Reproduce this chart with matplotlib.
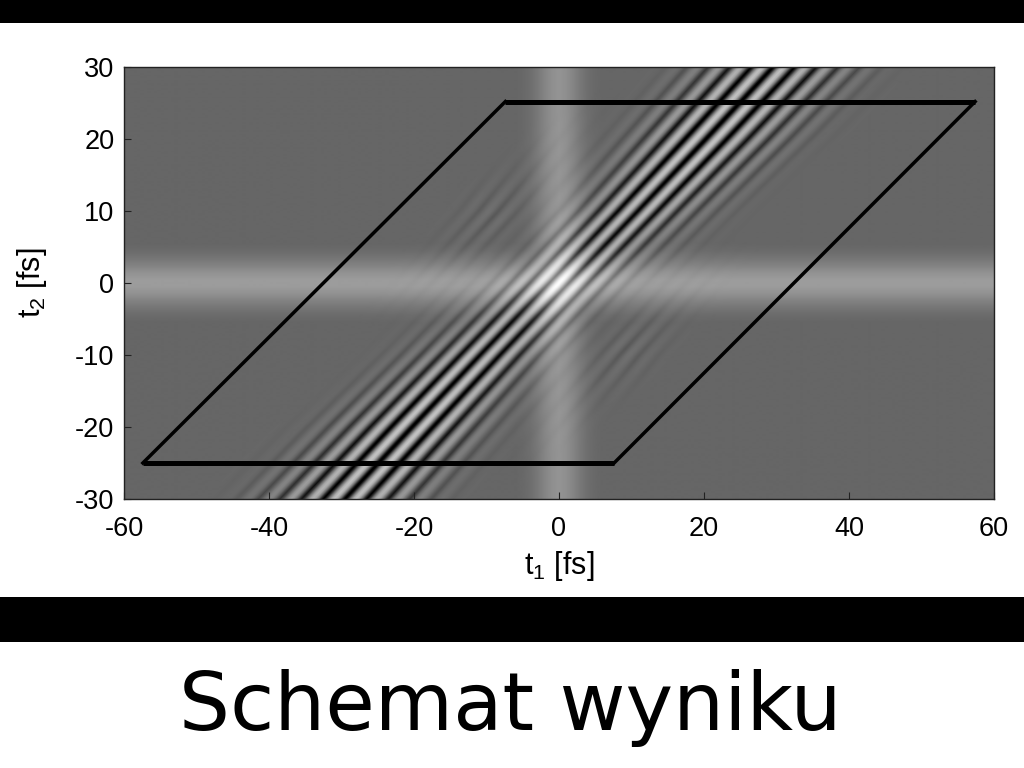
import numpy as np
import matplotlib
matplotlib.use('Agg')
import matplotlib.pyplot as plt
from matplotlib.patches import Rectangle

plt.rcParams['font.family'] = ['Liberation Sans', 'DejaVu Sans']
plt.rcParams['mathtext.fontset'] = 'custom'
plt.rcParams['mathtext.rm'] = 'Liberation Sans'
plt.rcParams['mathtext.default'] = 'regular'
plt.rcParams['axes.unicode_minus'] = False

# grey level of the flat background and the two soft bands
background = 0.40
band_t1 = [-60, -6, -5, -4, -3, -2, -1, 0, 1, 2, 3, 4, 5, 6, 60]
band_t1_grey = [0, 0, 0.01, 0.03, 0.07, 0.12, 0.16, 0.18, 0.16, 0.12, 0.07, 0.03, 0.01, 0, 0]
band_t2 = [-30, -5.5, -4.5, -3.5, -2.5, -1.5, -0.5, 0.5, 1.5, 2.5, 3.5, 4.5, 5.5, 30]
band_t2_grey = [0, 0, 0.02, 0.06, 0.11, 0.17, 0.21, 0.21, 0.17, 0.11, 0.06, 0.02, 0, 0]

# where the central light stripe crosses each t2 row, and the stripe spacing on that row
stripe_row = [-30, -20, -10, 0, 10, 20, 30]
stripe_centre = [-28, -18.8, -9.5, 0, 9.5, 18.8, 28]
stripe_spacing = [3.0, 2.9, 2.75, 2.7, 2.75, 2.9, 3.0]

# one fringe cycle across the stripes (+1 light crest, -1 dark crest)
cycle_phase = [0, 0.125, 0.25, 0.375, 0.5, 0.625, 0.75, 0.875, 1.0]
cycle_level = [1, 0.8, 0.2, -0.5, -1, -0.5, 0.2, 0.8, 1]
light_scale = 0.35
dark_scale = 0.46

# fringes: t1-t2 of the rows and t1+t2 of the columns
fringe_diff = [-26.7, -24, -21.3, -18.7, -16, -13.3, -10.7, -8, -5.3, -2.7, 0,
               2.7, 5.3, 8, 10.7, 13.3, 16, 18.7, 21.3, 24, 26.7]
fringe_sum = [0, 12, 24, 36, 48, 60, 72, 84]
# fringe strength, one row per fringe_diff, one column per fringe_sum
fringe_strength = [
    [0.00, 0.00, 0.00, 0.00, 0.00, 0.00, 0.00, 0.00],
    [0.04, 0.01, 0.00, 0.00, 0.00, 0.00, 0.00, 0.00],
    [0.09, 0.03, 0.01, 0.00, 0.00, 0.00, 0.00, 0.00],
    [0.13, 0.04, 0.01, 0.00, 0.00, 0.01, 0.01, 0.00],
    [0.09, 0.03, 0.01, 0.01, 0.02, 0.03, 0.03, 0.01],
    [0.02, 0.02, 0.05, 0.08, 0.12, 0.14, 0.13, 0.05],
    [0.05, 0.05, 0.14, 0.22, 0.30, 0.30, 0.28, 0.10],
    [0.14, 0.18, 0.32, 0.48, 0.55, 0.55, 0.48, 0.15],
    [0.36, 0.46, 0.66, 0.80, 0.85, 0.80, 0.70, 0.25],
    [0.55, 0.82, 0.95, 1.05, 1.05, 0.95, 0.90, 0.30],
    [0.60, 0.88, 1.00, 1.10, 1.10, 1.05, 0.95, 0.30],
    [0.55, 0.82, 0.95, 1.05, 1.05, 0.95, 0.90, 0.30],
    [0.36, 0.46, 0.66, 0.80, 0.85, 0.80, 0.70, 0.25],
    [0.14, 0.18, 0.32, 0.48, 0.55, 0.55, 0.48, 0.15],
    [0.05, 0.05, 0.14, 0.22, 0.30, 0.30, 0.28, 0.10],
    [0.02, 0.02, 0.05, 0.08, 0.12, 0.14, 0.13, 0.05],
    [0.09, 0.03, 0.01, 0.01, 0.02, 0.03, 0.03, 0.01],
    [0.13, 0.04, 0.01, 0.00, 0.00, 0.01, 0.01, 0.00],
    [0.09, 0.03, 0.01, 0.00, 0.00, 0.00, 0.00, 0.00],
    [0.04, 0.01, 0.00, 0.00, 0.00, 0.00, 0.00, 0.00],
    [0.00, 0.00, 0.00, 0.00, 0.00, 0.00, 0.00, 0.00],
]

# measurement window
window_top_t1 = [-7.4, 57.4]
window_top_t2 = [25.2, 25.2]
window_bottom_t1 = [-57.4, 7.6]
window_bottom_t2 = [-25, -25]
window_left_t1 = [-57.4, -7.4]
window_left_t2 = [-25, 25.2]
window_right_t1 = [7.6, 57.4]
window_right_t2 = [-25, 25.2]

x_ticks = [-60, -40, -20, 0, 20, 40, 60]
y_ticks = [-30, -20, -10, 0, 10, 20, 30]
title_text = 'Schemat wyniku'


def strength_at(diff, total):
    # table lookup, the picture is point symmetric so only t1+t2 >= 0 is tabulated
    fd = np.interp(diff * np.sign(total + 1e-9), fringe_diff, np.arange(len(fringe_diff)))
    fs = np.interp(np.abs(total), fringe_sum, np.arange(len(fringe_sum)))
    table = np.array(fringe_strength)
    i0 = np.minimum(fd.astype(int), table.shape[0] - 2)
    j0 = np.minimum(fs.astype(int), table.shape[1] - 2)
    wd = fd - i0
    ws = fs - j0
    return ((1 - wd) * (1 - ws) * table[i0, j0] + wd * (1 - ws) * table[i0 + 1, j0]
            + (1 - wd) * ws * table[i0, j0 + 1] + wd * ws * table[i0 + 1, j0 + 1])


fig = plt.figure(figsize=(10.24, 7.68), dpi=100, facecolor='white')

# black bars of the slide
for y0, y1 in [(0, 23), (597, 642)]:
    fig.add_artist(Rectangle((0, 1 - y1 / 768), 1, (y1 - y0) / 768,
                             transform=fig.transFigure, color='black', lw=0))

ax = fig.add_axes([124 / 1024, (768 - 499) / 768, 870 / 1024, 432 / 768])

# compose the grey field from the tables above
t1 = np.linspace(-60, 60, 871)
t2 = np.linspace(-30, 30, 433)
T1, T2 = np.meshgrid(t1, t2)
diff = T1 - T2
total = T1 + T2
phase = (T1 - np.interp(T2, stripe_row, stripe_centre)) / np.interp(T2, stripe_row, stripe_spacing)
carrier = np.interp(phase, cycle_phase, cycle_level, period=1.0)
scale = np.where(carrier > 0, light_scale, dark_scale)
grey = (background + np.interp(T1, band_t1, band_t1_grey) + np.interp(T2, band_t2, band_t2_grey)
        + strength_at(diff, total) * carrier * scale)

ax.imshow(grey, extent=(-60, 60, -30, 30), origin='lower', cmap='gray', vmin=0, vmax=1,
          aspect='auto', interpolation='bilinear')

# window
ax.plot(window_top_t1, window_top_t2, color='black', lw=3.6, solid_capstyle='butt')
ax.plot(window_bottom_t1, window_bottom_t2, color='black', lw=3.6, solid_capstyle='butt')
ax.plot(window_left_t1, window_left_t2, color='black', lw=2.5)
ax.plot(window_right_t1, window_right_t2, color='black', lw=2.5)

ax.set_xlim(-60, 60)
ax.set_ylim(-30, 30)
ax.set_xticks(x_ticks)
ax.set_yticks(y_ticks)
ax.tick_params(axis='both', direction='in', length=5, width=0.8, labelsize=19.5, pad=7, color='#222222')
ax.tick_params(axis='x', pad=12.5)
for spine in ax.spines.values():
    spine.set_linewidth(1.0)
    spine.set_color('#222222')

ax.set_xlabel('t$_1$ [fs]', fontsize=22, labelpad=5)
ax.set_ylabel('t$_2$ [fs]', fontsize=22, labelpad=19)

fig.text(510 / 1024, 1 - 730 / 768, title_text, fontsize=58, ha='center', va='baseline',
         family='DejaVu Sans', color='black')

plt.savefig('out.png', dpi=100)
plt.close()
